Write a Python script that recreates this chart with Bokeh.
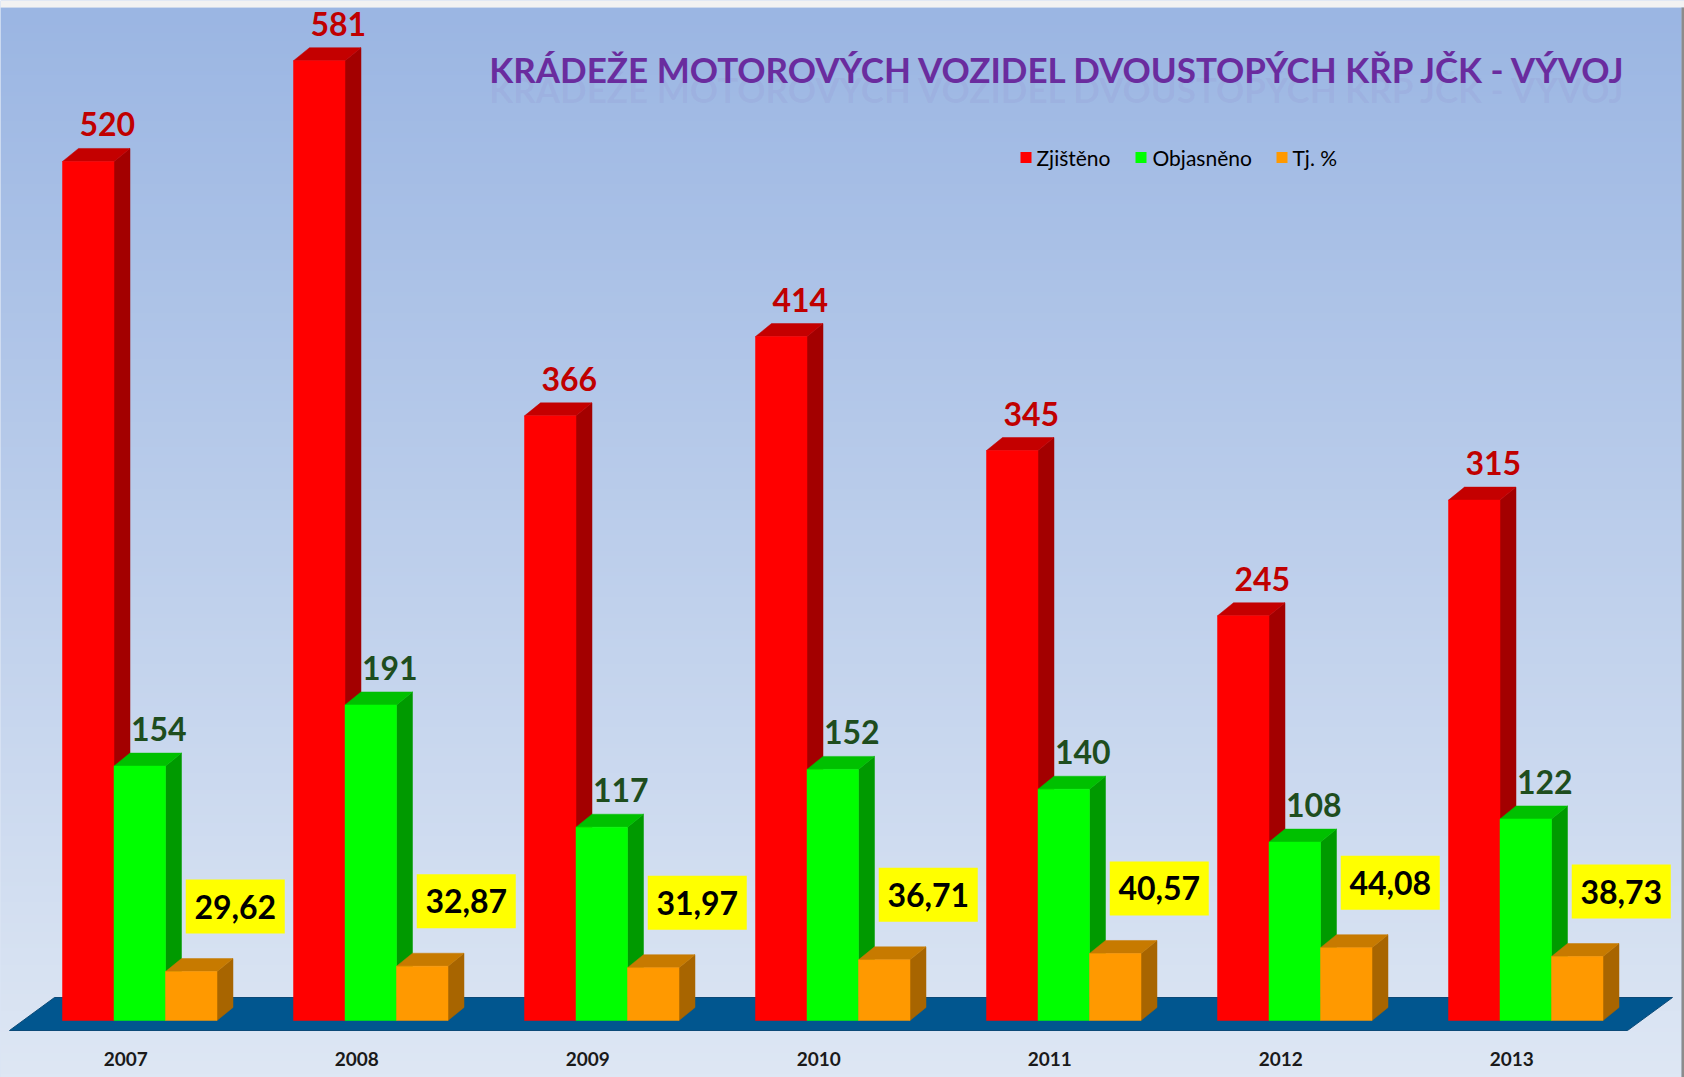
import numpy as np
from bokeh.plotting import figure
from bokeh.models import Range1d
from bokeh.core.properties import value
from bokeh.embed import file_html
from bokeh.resources import INLINE

# ---------------- data ----------------
years = ["2007", "2008", "2009", "2010", "2011", "2012", "2013"]
zjisteno = [520, 581, 366, 414, 345, 245, 315]
objasneno = [154, 191, 117, 152, 140, 108, 122]
tj_pct = [29.62, 32.87, 31.97, 36.71, 40.57, 44.08, 38.73]
tj_labels = ["29,62", "32,87", "31,97", "36,71", "40,57", "44,08", "38,73"]
series_names = ["Zjištěno", "Objasněno", "Tj. %"]
title_text = "KRÁDEŽE MOTOROVÝCH  VOZIDEL DVOUSTOPÝCH KŘP JČK - VÝVOJ"

# ---------------- layout ----------------
W, H = 1684, 1077
BASE = 1020          # pixel row (from top) of value 0
K = 1.652            # pixels per unit
Y0 = -(H - BASE) / K
Y1 = BASE / K


def vy(py):
    return (BASE - py) / K


GX0, GSTEP, BW = 62, 231, 51.5
DX, DYV = 16, 13 / K

FONT = value("Lato")

p = figure(width=W, height=H, x_range=Range1d(0, W), y_range=Range1d(Y0, Y1),
           output_backend="svg", toolbar_location=None, min_border=0,
           x_axis_type=None, y_axis_type=None, outline_line_color=None)
p.xgrid.visible = False
p.ygrid.visible = False
p.background_fill_color = "#b8cbeb"
p.border_fill_color = "#ffffff"

# background gradient (chart area)
n = 256
t = np.linspace(0, 1, n)
top_c = np.array([155, 182, 227])
bot_c = np.array([222, 231, 244])
img = np.empty((n, 2), dtype=np.uint32)
view = img.view(dtype=np.uint8).reshape((n, 2, 4))
for k in range(3):
    view[:, :, k] = (bot_c[k] + (top_c[k] - bot_c[k]) * t)[:, None].astype(np.uint8)
view[:, :, 3] = 255
p.image_rgba(image=[img], x=0, y=Y0, dw=1681, dh=vy(7) - Y0)
# frame around the chart picture
p.quad(left=0, right=W, bottom=vy(7), top=Y1, fill_color="#f2f2f2", line_color=None)
p.quad(left=1681, right=W, bottom=Y0, top=vy(7), fill_color="#8c8c8c", line_color=None)

# floor
p.patch([54, 1672, 1627, 9], [vy(997), vy(997), vy(1030), vy(1030)],
        fill_color="#01568f", line_color="#0b4a78", line_width=1)

# bars
series = [zjisteno, objasneno, tj_pct]
colors = [("#ff0000", "#a30000", "#c40000"),
          ("#00ff00", "#009a00", "#00c000"),
          ("#ff9900", "#a86500", "#c77a00")]

for s, vals in enumerate(series):
    front_c, side_c, top_col = colors[s]
    xs_side, ys_side, xs_top, ys_top = [], [], [], []
    lefts, rights, tops = [], [], []
    for i, v in enumerate(vals):
        x0 = GX0 + GSTEP * i + s * BW
        x1 = x0 + BW
        xs_side.append([x1, x1 + DX, x1 + DX, x1])
        ys_side.append([0, DYV, v + DYV, v])
        xs_top.append([x0, x0 + DX, x1 + DX, x1])
        ys_top.append([v, v + DYV, v + DYV, v])
        lefts.append(x0)
        rights.append(x1)
        tops.append(v)
    p.patches(xs_side, ys_side, fill_color=side_c, line_color=side_c, line_width=0.5)
    p.patches(xs_top, ys_top, fill_color=top_col, line_color=top_col, line_width=0.5)
    p.quad(left=lefts, right=rights, bottom=0, top=tops,
           fill_color=front_c, line_color=front_c, line_width=0.5)

# value labels
for s, (vals, col) in enumerate([(zjisteno, "#c00000"), (objasneno, "#1e4d1e")]):
    xs = [GX0 + GSTEP * i + s * BW + BW / 2 + 19 for i in range(len(vals))]
    ys = [v + 37 / K for v in vals]
    p.text(x=xs, y=ys, text=[str(v) for v in vals], text_align="center",
           text_baseline="middle", text_font=FONT, text_font_style="bold",
           text_font_size="32px", text_color=col)

ox = [GX0 + GSTEP * i + 2 * BW + BW / 2 + 44 for i in range(len(tj_pct))]
oy = [v + 65 / K for v in tj_pct]
p.rect(x=ox, y=oy, width=99, height=54 / K, fill_color="#ffff00", line_color=None)
p.text(x=ox, y=oy, text=tj_labels, text_align="center", text_baseline="middle",
       text_font=FONT, text_font_style="bold", text_font_size="32px", text_color="#000000")

# year labels
yx = [GX0 + GSTEP * i + 1.5 * BW - 14 for i in range(len(years))]
p.text(x=yx, y=[vy(1058)] * len(years), text=years, text_align="center",
       text_baseline="middle", text_font=FONT, text_font_style="bold",
       text_font_size="19px", text_color="#1a1a1a")

# title (with a faint reflection beneath)
p.text(x=[1063], y=[vy(88)], text=[title_text], text_align="center",
       text_baseline="middle", text_font=FONT, text_font_style="bold",
       text_font_size="35px", text_color="#8a6cc0", text_alpha=0.1)
p.text(x=[1063], y=[vy(68)], text=[title_text], text_align="center",
       text_baseline="middle", text_font=FONT, text_font_style="bold",
       text_font_size="35px", text_color="#6a2c9e")

# legend
leg_sq_x = [1025.5, 1140.5, 1281.5]
leg_tx_x = [1036, 1152, 1292]
p.scatter(x=leg_sq_x, y=[vy(157)] * 3, marker="square", size=11,
          fill_color=[c[0] for c in colors], line_color=None)
p.text(x=leg_tx_x, y=[vy(157)] * 3, text=series_names, text_align="left",
       text_baseline="middle", text_font=FONT, text_font_size="21px",
       text_color="#000000")

open("out.html", "w").write(file_html(p, INLINE))
